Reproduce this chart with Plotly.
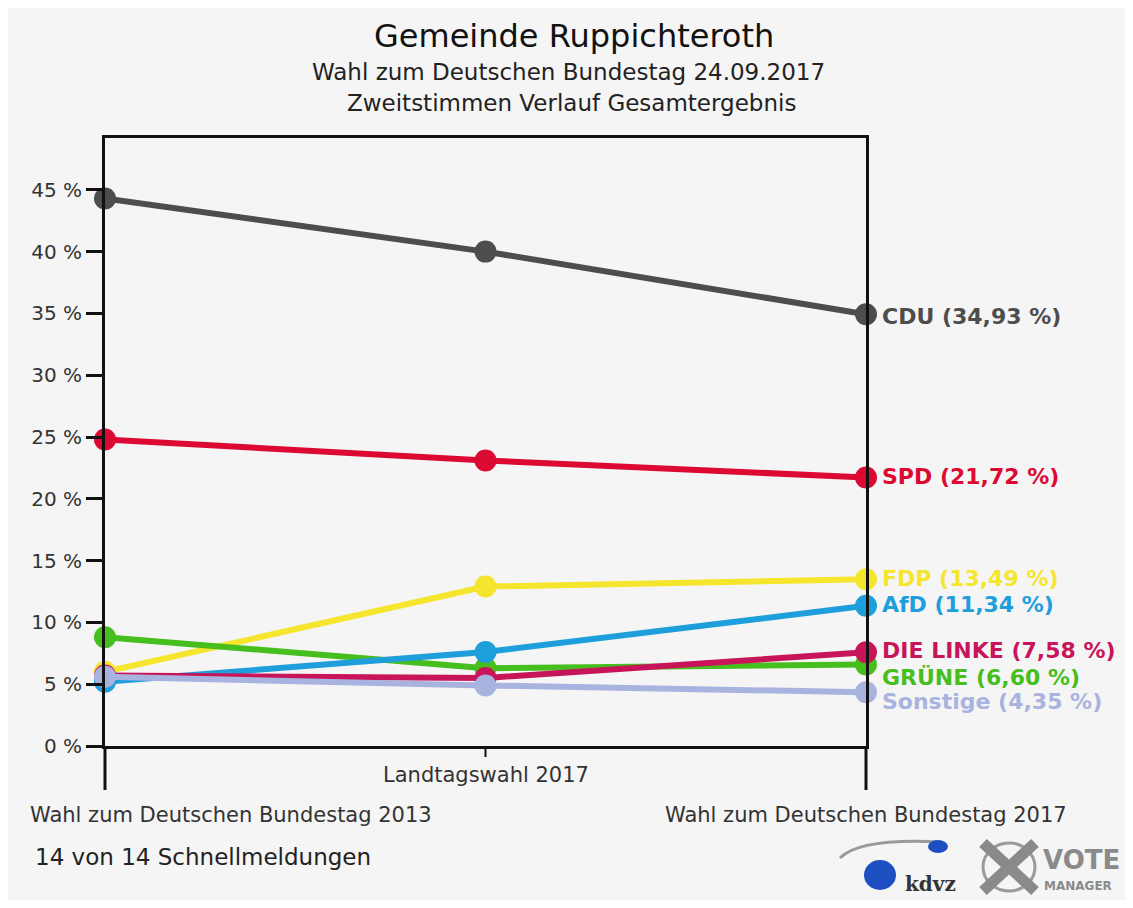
import plotly.graph_objects as go

# ---------------- data ----------------
categories = ["Wahl zum Deutschen Bundestag 2013", "Landtagswahl 2017", "Wahl zum Deutschen Bundestag 2017"]
parties = ["CDU", "SPD", "FDP", "GRÜNE", "AfD", "DIE LINKE", "Sonstige"]
cdu = [44.3, 40.0, 34.93]
spd = [24.8, 23.1, 21.72]
fdp = [6.0, 12.9, 13.49]
gruene = [8.8, 6.3, 6.60]
afd = [5.2, 7.6, 11.34]
linke = [5.7, 5.5, 7.58]
sonstige = [5.6, 4.9, 4.35]
series = [cdu, spd, fdp, gruene, afd, linke, sonstige]
y_ticks = [0, 5, 10, 15, 20, 25, 30, 35, 40, 45]
y_ticklabels = [f"{t} %" for t in y_ticks]
title = "Gemeinde Ruppichteroth"
subtitle1 = "Wahl zum Deutschen Bundestag 24.09.2017"
subtitle2 = "Zweitstimmen Verlauf Gesamtergebnis"
footer = "14 von 14 Schnellmeldungen"

# ---------------- style ----------------
colors = ["#4d4d4d", "#dc0a32", "#f5e52c", "#46be1e", "#1e9fdc", "#c8155a", "#a9b3e0"]
label_yshift = [-2, 1, 1, -13, 1, 2, -9]
FONT = "DejaVu Sans"

OFF = 8  # page body margin
W, H = 1133, 908
PL, PR, PT, PB = 105, 866, 138, 746  # plot area in page pixels
PW, PH = PR - PL, PB - PT
FW, FH = W - 2 * OFF, H - 2 * OFF
ML, MT = PL - OFF, PT - OFF
MR, MB = FW - ML - PW, FH - MT - PH
PX_PER_PCT = 12.36


def px(x):
    return (x - PL) / PW


def py(y):
    return (PB - y) / PH


x_pos = list(range(len(categories)))

fig = go.Figure()
for name, vals, col in zip(parties, series, colors):
    fig.add_trace(go.Scatter(
        x=x_pos, y=vals, mode="lines+markers", name=name,
        line=dict(color=col, width=6),
        marker=dict(color=col, size=22),
        cliponaxis=False, hoverinfo="skip",
    ))

annotations = []
for name, vals, col, ys in zip(parties, series, colors, label_yshift):
    txt = f"{name} ({vals[-1]:.2f} %)".replace(".", ",")
    annotations.append(dict(
        x=x_pos[-1], y=vals[-1], xref="x", yref="y", text=txt, showarrow=False,
        xanchor="left", yanchor="middle", xshift=14, yshift=ys,
        font=dict(family=FONT, size=22, color=col, weight="bold"),
    ))

annotations.append(dict(x=px(28), y=py(815), xref="paper", yref="paper", text=categories[0],
                        showarrow=False, xanchor="left", yanchor="middle",
                        font=dict(family=FONT, size=21, color="#333333")))
annotations.append(dict(x=x_pos[1], y=py(775), xref="x", yref="paper", text=categories[1],
                        showarrow=False, xanchor="center", yanchor="middle",
                        font=dict(family=FONT, size=21, color="#333333")))
annotations.append(dict(x=x_pos[2], y=py(815), xref="x", yref="paper", text=categories[2],
                        showarrow=False, xanchor="center", yanchor="middle",
                        font=dict(family=FONT, size=21, color="#333333")))

annotations.append(dict(x=px(574), y=py(36), xref="paper", yref="paper", text=title,
                        showarrow=False, xanchor="center", yanchor="middle",
                        font=dict(family=FONT, size=32, color="#111111")))
annotations.append(dict(x=px(568), y=py(72), xref="paper", yref="paper", text=subtitle1,
                        showarrow=False, xanchor="center", yanchor="middle",
                        font=dict(family=FONT, size=23, color="#222222")))
annotations.append(dict(x=px(571), y=py(103), xref="paper", yref="paper", text=subtitle2,
                        showarrow=False, xanchor="center", yanchor="middle",
                        font=dict(family=FONT, size=23, color="#222222")))
annotations.append(dict(x=px(33), y=py(857), xref="paper", yref="paper", text=footer,
                        showarrow=False, xanchor="left", yanchor="middle",
                        font=dict(family=FONT, size=23, color="#222222")))
annotations.append(dict(x=px(903), y=py(884), xref="paper", yref="paper", text="kdvz",
                        showarrow=False, xanchor="left", yanchor="middle",
                        font=dict(family="DejaVu Serif", size=20, color="#333333", weight="bold")))
annotations.append(dict(x=px(1041), y=py(860), xref="paper", yref="paper", text="VOTE",
                        showarrow=False, xanchor="left", yanchor="middle",
                        font=dict(family=FONT, size=26, color="#8a8a8a", weight="bold")))
annotations.append(dict(x=px(1042), y=py(886), xref="paper", yref="paper", text="MANAGER",
                        showarrow=False, xanchor="left", yanchor="middle",
                        font=dict(family=FONT, size=12, color="#8a8a8a", weight="bold")))

shapes = [
    dict(type="line", xref="x domain", yref="paper", x0=0, x1=0, y0=0, y1=py(790),
         line=dict(color="#111111", width=3)),
    dict(type="line", xref="x domain", yref="paper", x0=1, x1=1, y0=0, y1=py(790),
         line=dict(color="#111111", width=3)),
    dict(type="line", xref="x domain", yref="paper", x0=0.5, x1=0.5, y0=0, y1=py(757),
         line=dict(color="#111111", width=2)),
    dict(type="path", xref="paper", yref="paper",
         path=f"M {px(840)},{py(858)} Q {px(860)},{py(838)} {px(940)},{py(842)}",
         line=dict(color="#9a9a9a", width=3)),
    dict(type="circle", xref="paper", yref="paper", x0=px(864), x1=px(896), y0=py(890), y1=py(860),
         fillcolor="#1d4fc2", line=dict(width=0)),
    dict(type="circle", xref="paper", yref="paper", x0=px(928), x1=px(948), y0=py(853), y1=py(840),
         fillcolor="#1d4fc2", line=dict(width=0)),
    dict(type="circle", xref="paper", yref="paper", x0=px(983), x1=px(1035), y0=py(891), y1=py(843),
         fillcolor="rgba(0,0,0,0)", line=dict(color="#9a9a9a", width=3)),
    dict(type="line", xref="paper", yref="paper", x0=px(983), x1=px(1035), y0=py(843), y1=py(891),
         line=dict(color="#8a8a8a", width=11)),
    dict(type="line", xref="paper", yref="paper", x0=px(1035), x1=px(983), y0=py(843), y1=py(891),
         line=dict(color="#8a8a8a", width=11)),
]

fig.update_layout(
    width=FW, height=FH,
    margin=dict(l=ML, r=MR, t=MT, b=MB, pad=0),
    paper_bgcolor="#f5f5f5", plot_bgcolor="#f5f5f5",
    showlegend=False,
    annotations=annotations,
    shapes=shapes,
    xaxis=dict(range=[0, 2], showgrid=False, zeroline=False, showticklabels=False,
               showline=True, mirror=True, linecolor="#111111", linewidth=3, ticks=""),
    yaxis=dict(range=[0, PH / PX_PER_PCT],
               tickvals=y_ticks, ticktext=y_ticklabels, showgrid=False, zeroline=False,
               showline=True, mirror=True, linecolor="#111111", linewidth=3,
               ticks="outside", ticklen=16, tickwidth=3, tickcolor="#111111",
               tickfont=dict(family=FONT, size=20, color="#333333")),
)

fig.write_html("out.html")
